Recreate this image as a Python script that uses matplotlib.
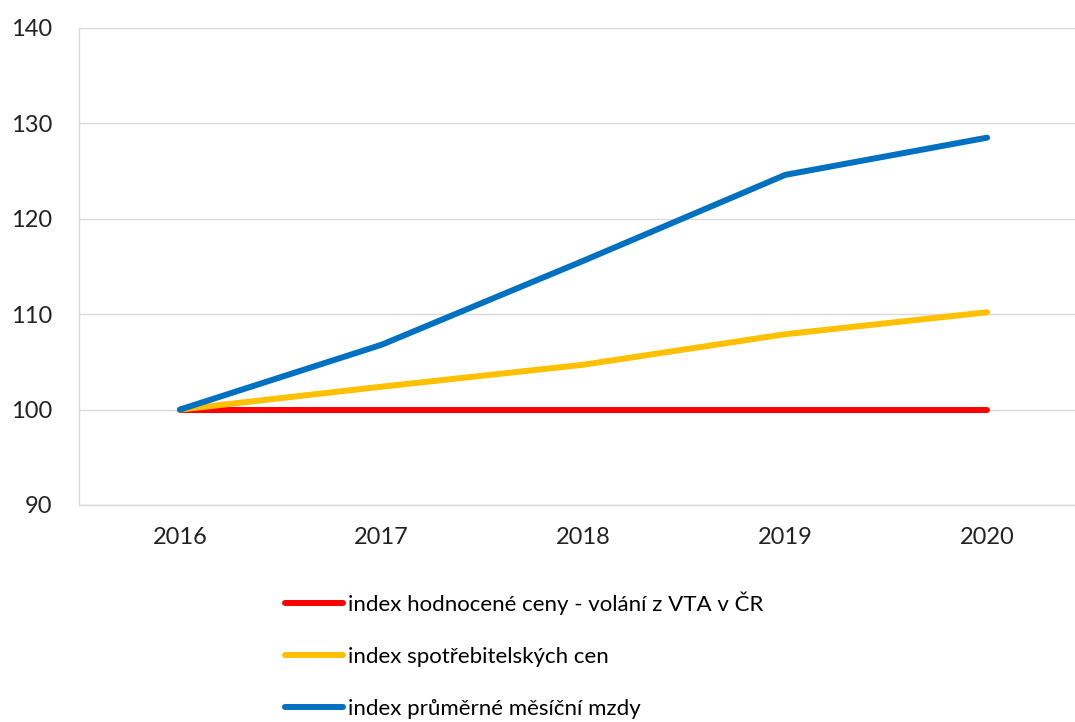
import matplotlib
matplotlib.use('Agg')
import matplotlib.pyplot as plt

# data
years = ['2016', '2017', '2018', '2019', '2020']
cena_vta = [100, 100, 100, 100, 100]
spotrebitelske_ceny = [100, 102.4, 104.7, 107.9, 110.2]
prumerna_mzda = [100, 106.8, 115.6, 124.6, 128.5]

labels = ['index hodnocené ceny - volání z VTA v ČR',
          'index spotřebitelských cen',
          'index průměrné měsíční mzdy']
colors = ['#FF0000', '#FFC000', '#0070C0']

plt.rcParams['font.family'] = ['Lato', 'DejaVu Sans']

fig = plt.figure(figsize=(10.75, 7.22), dpi=100)
ax = fig.add_axes([0.0735, 0.3006, 0.9386, 0.6607])

x = range(len(years))
lines = []
for vals, lab, col in zip([cena_vta, spotrebitelske_ceny, prumerna_mzda], labels, colors):
    ln, = ax.plot(x, vals, color=col, linewidth=4.3, solid_capstyle='round', label=lab)
    lines.append(ln)

ax.set_xlim(-0.5, 4.5)
ax.set_ylim(90, 140)
ax.set_yticks(range(90, 141, 10))
ax.set_xticks(list(x))
ax.set_xticklabels(years)
ax.tick_params(length=0, labelsize=17, colors='#222222')
ax.tick_params(axis='y', pad=19)
ax.tick_params(axis='x', pad=16)

ax.grid(axis='y', color='#D9D9D9', linewidth=1)
ax.set_axisbelow(True)
for s in ['top', 'right']:
    ax.spines[s].set_visible(False)
for s in ['left', 'bottom']:
    ax.spines[s].set_color('#D9D9D9')
    ax.spines[s].set_linewidth(1)

fig.legend(handles=lines, loc='upper left', bbox_to_anchor=(0.265, 0.181),
           frameon=False, fontsize=16, handlelength=2.6, handletextpad=0.25,
           labelspacing=1.45, borderpad=0, borderaxespad=0)

plt.savefig('out.png', dpi=100)
